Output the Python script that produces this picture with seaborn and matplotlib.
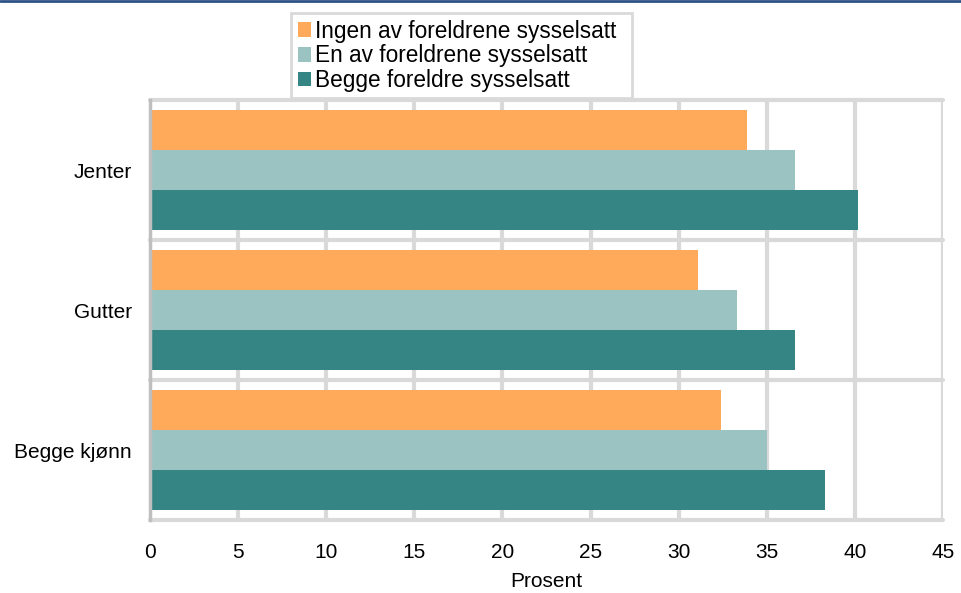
import matplotlib
matplotlib.use("Agg")
import matplotlib.pyplot as plt
import seaborn as sns
import pandas as pd
from matplotlib.lines import Line2D
from matplotlib.patches import Rectangle

categories = ["Jenter", "Gutter", "Begge kjønn"]
series_names = ["Ingen av foreldrene sysselsatt", "En av foreldrene sysselsatt", "Begge foreldre sysselsatt"]
ingen = [33.9, 31.1, 32.4]
en = [36.6, 33.3, 35.0]
begge = [40.2, 36.6, 38.3]
x_ticks = [0, 5, 10, 15, 20, 25, 30, 35, 40, 45]
colors = ["#FFAA5A", "#9BC3C2", "#348584"]

rows = []
for name, vals in zip(series_names, [ingen, en, begge]):
    for c, v in zip(categories, vals):
        rows.append({"Kategori": c, "Serie": name, "Prosent": v})
df = pd.DataFrame(rows)

sns.set_theme(style="white")
plt.rcParams["font.family"] = ["Liberation Sans", "DejaVu Sans"]
plt.rcParams["text.color"] = "black"
FS = 15

W, H = 962, 593
fig = plt.figure(figsize=(W/100, H/100), dpi=100)
ax = fig.add_axes([150/W, 1-520/H, (943-150)/W, 420/H])

sns.barplot(data=df, y="Kategori", x="Prosent", hue="Serie", order=categories,
            hue_order=series_names, palette=colors, orient="h", width=0.86,
            saturation=1, ax=ax, legend=True, edgecolor="none", linewidth=0)

ax.set_xlim(0, 45)
ax.set_ylim(2.5, -0.5)
ax.set_xticks(x_ticks)
ax.set_xticklabels([str(t) for t in x_ticks], fontsize=FS, color="black")
ax.tick_params(axis="x", length=0, pad=16.5)
ax.tick_params(axis="y", length=0, pad=13, labelsize=FS, labelcolor="black")
ax.set_ylabel("")
ax.set_xlabel("Prosent", fontsize=FS, labelpad=7, color="black")

grid_c = "#D9D9D9"
for t in x_ticks[1:]:
    ax.axvline(t, color=grid_c, lw=3, zorder=0.5)
for yb in [-0.5, 0.5, 1.5, 2.5]:
    ax.axhline(yb, color=grid_c, lw=3, zorder=0.5, clip_on=False)
for s in ["top", "right", "bottom"]:
    ax.spines[s].set_visible(False)
ax.spines["left"].set_color("#BFBFBF")
ax.spines["left"].set_linewidth(2.5)
ax.spines["left"].set_zorder(3)

handles, labels = ax.get_legend_handles_labels()
ax.get_legend().remove()

# legend frame drawn separately to match the reference box
fig.add_artist(Rectangle((291/W, 1-98/H), (632-291)/W, (98-13)/H, transform=fig.transFigure,
                         facecolor="white", edgecolor=grid_c, lw=2, zorder=4))

leg = fig.legend(handles, labels, loc="upper left", bbox_to_anchor=(293/W, 1-15/H),
                 bbox_transform=fig.transFigure, fontsize=16.3, frameon=False,
                 handlelength=0.6, handleheight=0.6, handletextpad=0.15, borderpad=0.2,
                 labelspacing=0.08, borderaxespad=0, labelcolor="black")
leg.set_zorder(5)

fig.add_artist(Line2D([0, 1], [1-1/H, 1-1/H], color="#2E5287", lw=2, transform=fig.transFigure))

fig.savefig("out.png", dpi=100)
